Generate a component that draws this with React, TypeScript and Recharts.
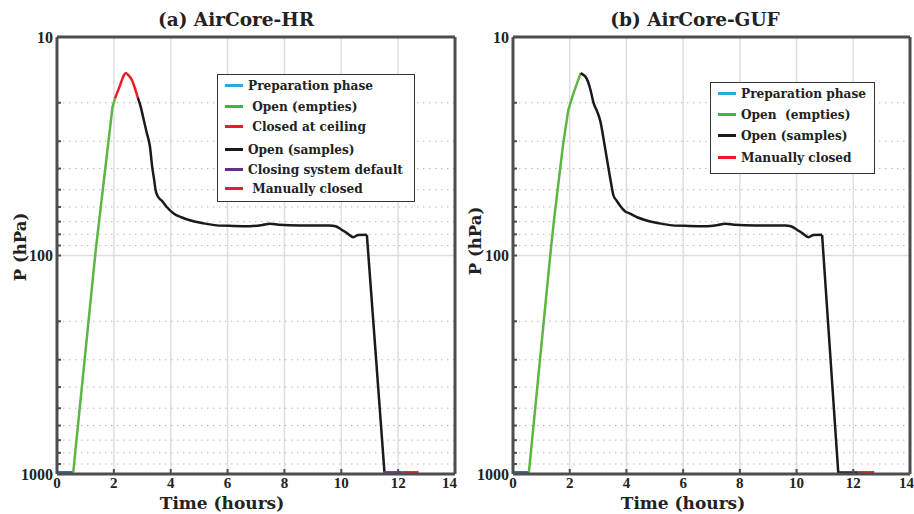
import React from 'react';
import { LineChart, Line, XAxis, YAxis, CartesianGrid, ReferenceLine, Legend, Label } from 'recharts';

const xTicks = [0, 2, 4, 6, 8, 10, 12, 14];
const yTicks = [10, 20, 30, 40, 50, 60, 70, 80, 90, 100, 200, 300, 400, 500, 600, 700, 800, 900, 1000];
const yLabelled = [10, 100, 1000];
const minorLevels = [20, 30, 40, 50, 60, 70, 80, 90, 200, 300, 400, 500, 600, 700, 800, 900];

// (a) AirCore-HR, [time in hours, pressure in hPa]
const hrPrep: [number, number][] = [[0, 985], [0.57, 985]];
const hrEmpties: [number, number][] = [
  [0.57, 985], [1.36, 95], [1.95, 21], [2.04, 19.1],
];
const hrCeiling: [number, number][] = [
  [2.04, 19.1], [2.22, 16.6], [2.35, 15], [2.42, 14.6], [2.5, 14.9], [2.63, 15.7], [2.75, 17.3], [2.84, 18.9],
];
const hrSamples: [number, number][] = [
  [2.84, 18.9], [2.95, 21], [3.04, 23.6], [3.15, 27.2], [3.27, 31.8], [3.35, 39.4], [3.42, 45.3], [3.47, 50.3],
  [3.56, 54], [3.68, 56], [3.86, 60], [4.09, 64], [4.4, 67], [4.68, 69], [5.1, 71], [5.62, 72.8], [6.2, 73.2],
  [6.79, 73.4], [7.2, 72.6], [7.49, 71.6], [7.8, 72.3], [8.55, 72.8], [9.6, 72.8], [9.8, 73.5], [10.0, 76],
  [10.2, 79], [10.42, 82.4], [10.6, 80.5], [10.9, 80.4],
];
const hrDescent: [number, number][] = [[10.9, 80.4], [11.52, 985]];
const hrDefault: [number, number][] = [[11.5, 985], [12.16, 985]];
const hrManual: [number, number][] = [[12.16, 985], [12.72, 985]];

// (b) AirCore-GUF
const gufPrep: [number, number][] = [[0, 985], [0.58, 985]];
const gufEmpties: [number, number][] = [
  [0.56, 985], [1.33, 95], [1.45, 68], [1.77, 30.8], [1.95, 21.6], [2.13, 18.1], [2.39, 14.6],
];
const gufSamples: [number, number][] = [
  [2.39, 14.6], [2.45, 14.8], [2.6, 15.5], [2.72, 17.2], [2.83, 19.8], [3.0, 22.5], [3.07, 24], [3.24, 31.8],
  [3.42, 43.7], [3.5, 50], [3.54, 53], [3.65, 56], [3.77, 59], [3.97, 63], [4.09, 64], [4.4, 67], [4.68, 69],
  [5.1, 71], [5.62, 72.8], [6.2, 73.2], [6.79, 73.4], [7.2, 72.6], [7.49, 71.6], [7.8, 72.3], [8.55, 72.8],
  [9.6, 72.8], [9.8, 73.5], [10.0, 76], [10.2, 79], [10.42, 82.4], [10.6, 80.5], [10.9, 80.4],
];
const gufDescent: [number, number][] = [[10.9, 80.4], [11.47, 985], [12.18, 985]];
const gufManual: [number, number][] = [[12.18, 985], [12.74, 985]];

const C = {
  prep: '#1b6cb5',
  empties: '#5db544',
  red: '#ec1c24',
  black: '#1a1a1a',
  purple: '#6b3a9e',
};
const SW = {
  prep: '#29abe2',
  empties: '#39b54a',
  red: '#ed1c24',
  black: '#1a1a1a',
  purple: '#662d91',
};

const FRAME = '#4d4d4d';
const SERIF = '"DejaVu Serif", serif';
const TICKFONT = '"Liberation Serif", serif';

const toPts = (arr: [number, number][]) => arr.map(([t, p]) => ({ t, p }));

type Seg = { name: string; data: [number, number][]; color: string; width: number; curve: 'linear' | 'monotone' };
type LegendItem = { label: string; color: string; top: number };

type PanelProps = {
  title: string;
  segs: Seg[];
  legend: LegendItem[];
  legendBox: { left: number; top: number; width: number; height: number };
  marginLeft: number;
  marginRight: number;
  titleX: number;
  xLabelX: number;
  yLabelX: number;
  yLabelY: number;
};

const Panel: React.FC<PanelProps> = ({
  title, segs, legend, legendBox, marginLeft, marginRight, titleX, xLabelX, yLabelX, yLabelY,
}) => (
  <LineChart
    width={457}
    height={514}
    margin={{ top: 36, right: marginRight, bottom: 0, left: marginLeft }}
  >
    <CartesianGrid horizontal={false} stroke="#dedede" strokeWidth={1.5} />
    {minorLevels.map((v) => (
      <ReferenceLine key={v} y={v} stroke="#b8b8b8" strokeWidth={1} strokeDasharray="1.5 4.5" />
    ))}
    <ReferenceLine y={100} stroke="#dedede" strokeWidth={1.5} />
    <XAxis
      dataKey="t"
      type="number"
      domain={[0, 14]}
      ticks={xTicks}
      allowDataOverflow
      height={40}
      tickSize={-5}
      tickMargin={8}
      axisLine={{ stroke: FRAME, strokeWidth: 3 }}
      tickLine={{ stroke: FRAME, strokeWidth: 2 }}
      tick={{ fill: '#222', fontFamily: TICKFONT, fontWeight: 700, fontSize: 15 }}
    >
      <Label
        content={() => (
          <text x={xLabelX} y={509} textAnchor="middle" fontFamily={SERIF} fontWeight={700} fontSize={17} fill="#222">
            Time (hours)
          </text>
        )}
      />
    </XAxis>
    <XAxis
      xAxisId="top"
      orientation="top"
      type="number"
      domain={[0, 14]}
      ticks={xTicks}
      allowDataOverflow
      height={1}
      tick={false}
      tickSize={-5}
      axisLine={{ stroke: FRAME, strokeWidth: 3 }}
      tickLine={{ stroke: FRAME, strokeWidth: 2 }}
    >
      <Label
        content={() => (
          <text x={titleX} y={26} textAnchor="middle" fontFamily={SERIF} fontWeight={700} fontSize={18.5} fill="#222">
            {title}
          </text>
        )}
      />
    </XAxis>
    <YAxis
      type="number"
      scale="log"
      domain={[10, 1000]}
      reversed
      allowDataOverflow
      ticks={yTicks}
      interval={0}
      width={45}
      tickSize={-4}
      tickMargin={8}
      tickFormatter={(v: number) => (yLabelled.includes(v) ? String(v) : '')}
      axisLine={{ stroke: FRAME, strokeWidth: 3 }}
      tickLine={{ stroke: FRAME, strokeWidth: 2 }}
      tick={{ fill: '#222', fontFamily: TICKFONT, fontWeight: 700, fontSize: 16 }}
    >
      <Label
        content={() => (
          <text
            x={yLabelX}
            y={yLabelY}
            textAnchor="middle"
            dominantBaseline="central"
            transform={`rotate(-90 ${yLabelX} ${yLabelY})`}
            fontFamily={SERIF}
            fontWeight={700}
            fontSize={16.5}
            fill="#222"
          >
            P (hPa)
          </text>
        )}
      />
    </YAxis>
    <YAxis
      yAxisId="right"
      orientation="right"
      type="number"
      scale="log"
      domain={[10, 1000]}
      reversed
      allowDataOverflow
      ticks={yTicks}
      interval={0}
      width={1}
      tick={false}
      tickSize={-4}
      axisLine={{ stroke: FRAME, strokeWidth: 3 }}
      tickLine={{ stroke: FRAME, strokeWidth: 2 }}
    />
    {segs.map((s) => (
      <Line
        key={s.name}
        name={s.name}
        data={toPts(s.data)}
        dataKey="p"
        type={s.curve}
        stroke={s.color}
        strokeWidth={s.width}
        strokeLinejoin="round"
        dot={false}
        isAnimationActive={false}
      />
    ))}
    <Legend
      layout="horizontal"
      verticalAlign="middle"
      align="center"
      wrapperStyle={{ ...legendBox, position: 'absolute' }}
      content={() => (
        <div
          style={{
            position: 'relative',
            width: legendBox.width,
            height: legendBox.height,
            boxSizing: 'border-box',
            border: '1.5px solid #333',
            background: '#fff',
          }}
        >
          {legend.map((it) => (
            <div
              key={it.label}
              style={{
                position: 'absolute',
                left: 7,
                top: it.top,
                display: 'flex',
                alignItems: 'center',
                whiteSpace: 'pre',
                fontFamily: SERIF,
                fontStretch: 'condensed',
                fontWeight: 700,
                fontSize: 13.5,
                color: '#222',
                lineHeight: '15px',
              }}
            >
              <span style={{ display: 'inline-block', width: 18, height: 3, background: it.color, marginRight: 5 }} />
              {it.label}
            </div>
          ))}
        </div>
      )}
    />
  </LineChart>
);

const hrSegs: Seg[] = [
  { name: 'hrPrep', data: hrPrep, color: C.prep, width: 3, curve: 'linear' },
  { name: 'hrEmpties', data: hrEmpties, color: C.empties, width: 2.5, curve: 'linear' },
  { name: 'hrCeiling', data: hrCeiling, color: C.red, width: 2.5, curve: 'monotone' },
  { name: 'hrSamples', data: hrSamples, color: C.black, width: 2.5, curve: 'monotone' },
  { name: 'hrDescent', data: hrDescent, color: C.black, width: 2.5, curve: 'linear' },
  { name: 'hrDefault', data: hrDefault, color: C.purple, width: 3, curve: 'linear' },
  { name: 'hrManual', data: hrManual, color: C.red, width: 3, curve: 'linear' },
];
const gufSegs: Seg[] = [
  { name: 'gufPrep', data: gufPrep, color: C.prep, width: 3, curve: 'linear' },
  { name: 'gufEmpties', data: gufEmpties, color: C.empties, width: 2.5, curve: 'linear' },
  { name: 'gufSamples', data: gufSamples, color: C.black, width: 2.5, curve: 'monotone' },
  { name: 'gufDescent', data: gufDescent, color: C.black, width: 2.5, curve: 'linear' },
  { name: 'gufManual', data: gufManual, color: C.red, width: 3, curve: 'linear' },
];

const hrLegend: LegendItem[] = [
  { label: 'Preparation phase', color: SW.prep, top: 3 },
  { label: ' Open (empties)', color: SW.empties, top: 24 },
  { label: ' Closed at ceiling', color: SW.red, top: 44 },
  { label: 'Open (samples)', color: SW.black, top: 67 },
  { label: 'Closing system default', color: SW.purple, top: 87 },
  { label: ' Manually closed', color: SW.red, top: 106 },
];
const gufLegend: LegendItem[] = [
  { label: 'Preparation phase', color: SW.prep, top: 3 },
  { label: 'Open  (empties)', color: SW.empties, top: 24 },
  { label: 'Open (samples)', color: SW.black, top: 45 },
  { label: 'Manually closed', color: SW.red, top: 67 },
];

export default function App() {
  return (
    <div style={{ position: 'absolute', left: 0, top: 0, width: 914, height: 514, background: '#fff' }}>
      <div style={{ position: 'absolute', left: 0, top: 0 }}>
        <Panel
          title="(a) AirCore-HR"
          segs={hrSegs}
          legend={hrLegend}
          legendBox={{ left: 217, top: 74, width: 198, height: 128 }}
          marginLeft={12}
          marginRight={1}
          titleX={236}
          xLabelX={222}
          yLabelX={20}
          yLabelY={247}
        />
      </div>
      <div style={{ position: 'absolute', left: 457, top: 0 }}>
        <Panel
          title="(b) AirCore-GUF"
          segs={gufSegs}
          legend={gufLegend}
          legendBox={{ left: 253, top: 82, width: 165, height: 92 }}
          marginLeft={11}
          marginRight={3}
          titleX={238}
          xLabelX={226}
          yLabelX={18}
          yLabelY={241}
        />
      </div>
    </div>
  );
}
